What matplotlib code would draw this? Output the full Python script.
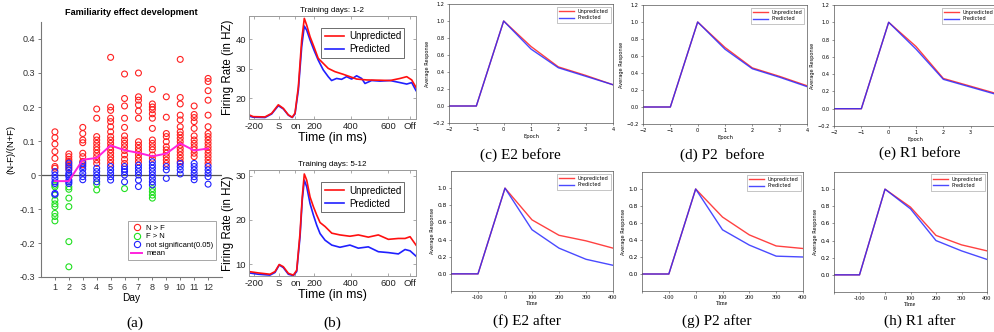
import matplotlib
matplotlib.use("Agg")
import matplotlib.pyplot as plt
from matplotlib.lines import Line2D

# === DATA: panel (a) ===
days = list(range(1, 13))
mean_vals = [-0.018, -0.018, 0.045, 0.05, 0.087, 0.073, 0.065, 0.055, 0.063, 0.093, 0.072, 0.078]

red_vals = [
    [0.127, 0.11, 0.091, 0.069, 0.049, 0.025, 0.02],
    [0.062, 0.054, 0.046, 0.04, 0.03, 0.02],
    [0.14, 0.122, 0.103, 0.095, 0.064, 0.054, 0.04, 0.03],
    [0.194, 0.167, 0.113, 0.103, 0.093, 0.083, 0.074, 0.064, 0.054, 0.044, 0.034],
    [0.346, 0.2, 0.19, 0.167, 0.157, 0.142, 0.127, 0.113, 0.103, 0.093, 0.083, 0.074, 0.064, 0.054, 0.044, 0.034],
    [0.297, 0.225, 0.203, 0.167, 0.14, 0.115, 0.103, 0.093, 0.083, 0.072, 0.059, 0.046, 0.034],
    [0.3, 0.23, 0.22, 0.206, 0.188, 0.167, 0.098, 0.088, 0.078, 0.069, 0.059, 0.049, 0.039],
    [0.252, 0.209, 0.2, 0.192, 0.18, 0.167, 0.137, 0.103, 0.093, 0.083, 0.074, 0.059, 0.049],
    [0.23, 0.17, 0.122, 0.113, 0.098, 0.083, 0.074, 0.064, 0.054, 0.044, 0.034],
    [0.34, 0.228, 0.209, 0.176, 0.162, 0.142, 0.127, 0.118, 0.108, 0.098, 0.088, 0.078, 0.069, 0.059, 0.049, 0.039],
    [0.203, 0.178, 0.169, 0.157, 0.137, 0.115, 0.103, 0.093, 0.083, 0.074, 0.064, 0.054],
    [0.284, 0.275, 0.248, 0.22, 0.176, 0.142, 0.122, 0.113, 0.103, 0.093, 0.083, 0.074, 0.064, 0.054, 0.044, 0.034],
]
green_vals = [
    [-0.03, -0.035, -0.059, -0.074, -0.085, -0.093, -0.113, -0.122, -0.135],
    [-0.035, -0.042, -0.068, -0.093, -0.196, -0.27],
    [],
    [-0.027, -0.044],
    [],
    [-0.04],
    [],
    [-0.04, -0.049, -0.059, -0.068],
    [], [], [], [],
]
blue_vals = [
    [0.01, 0.0, -0.01, -0.02, -0.025, -0.054, -0.057],
    [0.035, 0.025, 0.015, 0.005, 0.0, -0.005, -0.015, -0.02, -0.025],
    [0.035, 0.025, 0.017, 0.005, -0.005, -0.014],
    [0.02, 0.01, 0.0, -0.01, -0.02],
    [0.025, 0.015, 0.005, -0.005, -0.015],
    [0.025, 0.017, 0.01, 0.0, -0.02],
    [0.029, 0.02, 0.01, 0.0, -0.015, -0.034],
    [0.039, 0.029, 0.02, 0.01, 0.0, -0.01, -0.02, -0.029],
    [0.025, 0.015, -0.01],
    [0.034, 0.025, 0.015, 0.003],
    [0.034, 0.025, 0.015, 0.005, -0.005, -0.014],
    [0.025, 0.015, 0.005, -0.005, -0.027],
]

# === DATA: panel (b) ===
t_top = [-150, -127, -64, -28, 8, 35, 62, 83, 98, 116, 134, 148, 161, 179, 200, 223, 250, 277,
         313, 358, 394, 430, 484, 556, 610, 664, 700, 727, 750]
unpred_top = [14.4, 13.8, 13.7, 14.9, 17.8, 16.6, 14.4, 13.6, 15.0, 23.9, 39.7, 47.0, 44.7, 40.8,
              37.4, 33.5, 31.8, 30.1, 29.0, 28.1, 27.3, 26.5, 26.2, 26.1, 26.0, 26.7, 27.3, 26.2, 23.7]
t_top_p = [-150, -127, -64, -28, 8, 35, 62, 83, 98, 116, 134, 148, 161, 179, 200, 223, 250, 277,
           295, 322, 349, 376, 403, 430, 457, 475, 511, 556, 610, 664, 700, 727, 750]
pred_top = [14.0, 13.6, 13.5, 14.7, 17.5, 16.4, 14.3, 13.5, 14.7, 22.8, 37.4, 44.4, 43.0, 39.7,
            36.3, 32.9, 29.6, 27.3, 26.0, 26.7, 26.4, 27.3, 26.5, 27.6, 26.7, 25.0, 26.0, 25.8,
            26.0, 25.3, 24.8, 25.3, 22.6]

t_bot = [-150, -100, -37, -10, 13, 35, 62, 89, 107, 125, 137, 148, 161, 179, 197, 215, 233, 260,
         296, 340, 394, 439, 493, 547, 601, 655, 691, 718, 750]
unpred_bot = [8.3, 8.0, 7.7, 8.3, 9.9, 9.4, 7.9, 7.5, 8.6, 17.0, 25.2, 30.4, 29.0, 25.2, 23.0, 21.1,
              19.4, 18.5, 17.0, 16.6, 16.3, 16.6, 16.1, 16.6, 15.6, 15.8, 15.8, 16.2, 14.3]
pred_bot = [8.0, 7.7, 7.5, 8.1, 9.8, 9.2, 7.7, 7.4, 8.3, 16.2, 24.5, 29.0, 27.5, 23.7, 21.1, 18.8,
            16.9, 15.4, 14.3, 13.8, 14.3, 13.6, 13.9, 12.8, 12.6, 12.3, 13.3, 13.0, 11.8]

b_tick_pos = [-125, 10, 100, 200, 400, 600, 720]
b_tick_labels = ["-200", "S", "on", "200", "400", "600", "Off"]

# === DATA: panels (c)-(h) ===
epochs = [-2, -1, 0, 1, 2, 3, 4]
times = [-200, -100, 0, 100, 200, 300, 400]
c_unpred = [0, 0, 1.0, 0.70, 0.46, 0.36, 0.25]
c_pred = [0, 0, 1.0, 0.67, 0.45, 0.35, 0.25]
d_unpred = [0, 0, 1.0, 0.70, 0.46, 0.36, 0.25]
d_pred = [0, 0, 1.0, 0.68, 0.45, 0.35, 0.24]
e_unpred = [0, 0, 1.0, 0.72, 0.35, 0.26, 0.17]
e_pred = [0, 0, 1.0, 0.69, 0.34, 0.25, 0.16]
f_unpred = [0, 0, 1.0, 0.63, 0.45, 0.385, 0.30]
f_pred = [0, 0, 1.0, 0.515, 0.30, 0.17, 0.10]
g_unpred = [0, 0, 1.0, 0.67, 0.46, 0.33, 0.30]
g_pred = [0, 0, 1.0, 0.52, 0.34, 0.21, 0.20]
h_unpred = [0, 0, 1.0, 0.79, 0.46, 0.35, 0.28]
h_pred = [0, 0, 1.0, 0.77, 0.40, 0.28, 0.18]

captions = ["(a)", "(b)", "(c) E2 before", "(d) P2  before", "(e) R1 before",
            "(f) E2 after", "(g) P2 after", "(h) R1 after"]

W, H = 994, 332
fig = plt.figure(figsize=(W / 100, H / 100), dpi=100)


def rect(l, r, t, b):
    return [l / W, 1 - b / H, (r - l) / W, (b - t) / H]


sans = "Liberation Sans"

# === PANEL (a) ===
ax = fig.add_axes(rect(41, 222, 22, 277))
for i, d in enumerate(days):
    for vals, col in ((red_vals[i], "#ff2020"), (green_vals[i], "#20e020"), (blue_vals[i], "#2020ff")):
        if vals:
            ax.scatter([d] * len(vals), vals, s=18, facecolors="none", edgecolors=col, linewidths=0.8, zorder=3)
ax.axhline(0, color="#555555", lw=0.9, zorder=2)
ax.plot(days, mean_vals, color="#ff22dd", lw=1.4, zorder=4)
ax.set_xlim(0, 13)
ax.set_ylim(-0.3, 0.45)
ax.set_xticks(days)
ax.set_xticklabels([str(d) for d in days], fontsize=6.5, family=sans, color="#333333")
yt = [-0.3, -0.2, -0.1, 0, 0.1, 0.2, 0.3, 0.4]
ax.set_yticks(yt)
ax.set_yticklabels(["-0.3", "-0.2", "-0.1", "0", "0.1", "0.2", "0.3", "0.4"], fontsize=6.5, family=sans, color="#333333")
ax.tick_params(direction="out", length=2, width=0.6, color="#666666", pad=2)
for s in ("top", "right"):
    ax.spines[s].set_visible(False)
for s in ("left", "bottom"):
    ax.spines[s].set_color("#777777")
    ax.spines[s].set_linewidth(0.8)
ax.set_title("Familiarity effect development", fontsize=6.6, fontweight="bold", family=sans, pad=5)
ax.set_ylabel("(N-F)/(N+F)", fontsize=6.8, family=sans, labelpad=3)
ax.set_xlabel("Day", fontsize=7.3, family=sans, labelpad=1)
handles = [
    Line2D([], [], marker="o", ls="none", mfc="none", mec="#ff2020", ms=4.5, mew=0.8),
    Line2D([], [], marker="o", ls="none", mfc="none", mec="#20e020", ms=4.5, mew=0.8),
    Line2D([], [], marker="o", ls="none", mfc="none", mec="#2020ff", ms=4.5, mew=0.8),
    Line2D([], [], color="#ff22dd", lw=1.4),
]
leg = ax.legend(handles, ["N > F", "F > N", "not significant(0.05)", "mean"], loc="lower right",
                bbox_to_anchor=(0.99, 0.05), prop={"family": sans, "size": 5.5}, fancybox=False,
                edgecolor="#999999", handlelength=1.5, handletextpad=0.5, labelspacing=0.15,
                borderpad=0.4, framealpha=1)
leg.get_frame().set_linewidth(0.6)

# === PANEL (b) ===
def firing_panel(r, t_u, u, t_p, p, ylim, yt, title):
    ax = fig.add_axes(r)
    ax.plot(t_p, p, color="#2020ff", lw=1.2, label="Predicted")
    ax.plot(t_u, u, color="#ff1010", lw=1.2, label="Unpredicted")
    ax.set_xlim(-150, 750)
    ax.set_ylim(*ylim)
    ax.set_xticks(b_tick_pos)
    ax.set_xticklabels(b_tick_labels, fontsize=6.8, family=sans, color="#222222")
    ax.set_yticks(yt)
    ax.set_yticklabels([str(v) for v in yt], fontsize=6.8, family=sans, color="#222222")
    ax.tick_params(direction="in", length=2, width=0.5, color="#888888", pad=2, top=True, right=True)
    for s in ax.spines.values():
        s.set_color("#999999")
        s.set_linewidth(0.7)
    ax.set_title(title, fontsize=5.8, family=sans, pad=3)
    ax.set_ylabel("Firing Rate (in HZ)", fontsize=8.3, family=sans, labelpad=1)
    ax.set_xlabel("Time (in ms)", fontsize=9, family=sans, labelpad=1)
    h, l = ax.get_legend_handles_labels()
    lg = ax.legend(h[::-1], l[::-1], loc="upper right", bbox_to_anchor=(0.96, 0.93),
                   prop={"family": sans, "size": 7}, fancybox=False, edgecolor="#555555",
                   handlelength=2.0, handletextpad=0.5, labelspacing=0.3, borderpad=0.35, framealpha=1)
    lg.get_frame().set_linewidth(0.6)


firing_panel(rect(249, 416, 16, 119), t_top, unpred_top, t_top_p, pred_top, (13.0, 47.8), [20, 30, 40],
             "Training days: 1-2")
firing_panel(rect(249, 416, 170, 276), t_bot, unpred_bot, t_bot, pred_bot, (7.3, 31.3), [10, 20, 30],
             "Training days: 5-12")

# === PANELS (c)-(h) ===
def response_panel(r, x, u, p, before, last_label=True):
    ax = fig.add_axes(r)
    ax.plot(x, u, color="#ff2020", lw=1.0, alpha=0.85, label="Unpredicted")
    ax.plot(x, p, color="#2a2aff", lw=1.0, alpha=0.85, label="Predicted")
    ax.set_ylim(-0.2, 1.2)
    if before:
        ax.set_xlim(-2, 4)
        ax.set_xticks(epochs)
        xl = ["\u22122", "\u22121", "0", "1", "2", "3", "4" if last_label else ""]
        ax.set_xticklabels(xl, fontsize=3.6)
        yt = [-0.2, 0, 0.2, 0.4, 0.6, 0.8, 1.0, 1.2]
        ax.set_yticks(yt)
        ax.set_yticklabels(["\u22120.2", "0.0", "0.2", "0.4", "0.6", "0.8", "1.0", "1.2"], fontsize=3.6)
        ax.set_xlabel("Epoch", fontsize=3.8, labelpad=1)
    else:
        ax.set_xlim(-200, 400)
        ax.set_xticks(times)
        ax.set_xticklabels(["", "-100", "0", "100", "200", "300", "400"], fontsize=4.5, family="Liberation Serif")
        yt = [0, 0.2, 0.4, 0.6, 0.8, 1.0]
        ax.set_yticks(yt)
        ax.set_yticklabels(["0.0", "0.2", "0.4", "0.6", "0.8", "1.0"], fontsize=4.2)
        ax.set_xlabel("Time", fontsize=4.2, family="Liberation Serif", labelpad=0.5)
    ax.set_ylabel("Average Response", fontsize=3.6, labelpad=2)
    ax.tick_params(length=1.5, width=0.4, pad=1.5, color="#444444")
    for s in ax.spines.values():
        s.set_color("#555555")
        s.set_linewidth(0.5)
    lg = ax.legend(loc="upper right", prop={"size": 3.6}, fancybox=False, edgecolor="#999999",
                   handlelength=3.0, handletextpad=0.6, labelspacing=0.25, borderpad=0.5, framealpha=1)
    lg.get_frame().set_linewidth(0.4)


response_panel(rect(449, 613, 4, 123), epochs, c_unpred, c_pred, True)
response_panel(rect(643, 807, 5, 124), epochs, d_unpred, d_pred, True)
response_panel(rect(834, 998, 5, 126), epochs, e_unpred, e_pred, True, last_label=False)
response_panel(rect(451, 613, 171, 291), times, f_unpred, f_pred, False)
response_panel(rect(642, 803, 172, 291), times, g_unpred, g_pred, False)
response_panel(rect(834, 987, 172, 292), times, h_unpred, h_pred, False)

# === CAPTIONS ===
cap_pos = [(135, 323), (332, 323), (520, 155), (722, 155), (920, 153), (527, 321), (717, 321), (920, 321)]
for txt, (cx, cy) in zip(captions, cap_pos):
    fig.text(cx / W, 1 - cy / H, txt, ha="center", va="center", fontsize=11, family="Liberation Serif")

fig.savefig("out.png", dpi=100)
